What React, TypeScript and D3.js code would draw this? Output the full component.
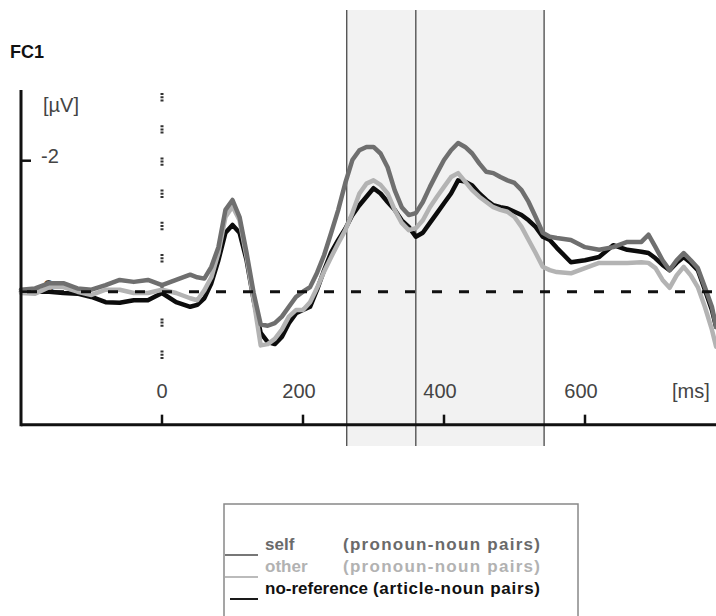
import React, { useEffect, useRef } from 'react';
import * as d3 from 'd3';

// time points (ms) shared by the three waveforms
const times = [
  -200, -180, -160, -140, -120, -100, -80, -60, -40, -20, 0, 20, 40,
  50, 60, 70, 80, 90, 100, 110, 120, 130, 140, 150, 160, 170, 180, 190, 200,
  210, 220, 230, 240, 250, 260, 270, 280, 290, 300, 310, 320, 330, 340, 350,
  360, 370, 380, 390, 400, 410, 420, 430, 440, 450, 460, 470, 480, 490, 500,
  510, 520, 530, 540,
  550, 560, 580, 600, 620, 640, 660, 680, 690, 700, 710, 720, 730, 740, 750,
  760, 770, 780, 786,
];

// amplitudes in µV (negative is plotted up)
const selfVals = [
  -0.03, -0.05, -0.13, -0.13, -0.05, -0.03, -0.1, -0.18, -0.15, -0.18, -0.1, -0.18, -0.26,
  -0.22, -0.2, -0.38, -0.68, -1.25, -1.4, -1.14, -0.59, 0.02, 0.5, 0.52, 0.48, 0.38, 0.23, 0.08, 0.0,
  -0.07, -0.29, -0.56, -0.9, -1.25, -1.66, -2.01, -2.16, -2.21, -2.21, -2.11, -1.9, -1.55, -1.29, -1.17,
  -1.2, -1.37, -1.6, -1.81, -2.01, -2.16, -2.27, -2.21, -2.11, -1.96, -1.83, -1.81, -1.75, -1.7, -1.66,
  -1.55, -1.37, -1.14, -0.9,
  -0.84, -0.82, -0.79, -0.68, -0.64, -0.68, -0.76, -0.76, -0.87, -0.68, -0.48, -0.33, -0.48, -0.59, -0.48,
  -0.36, -0.07, 0.23, 0.54,
];

const otherVals = [
  0.02, 0.03, -0.07, -0.07, 0.0, 0.05, -0.03, -0.03, 0.02, 0.02, -0.03, 0.02, 0.1,
  0.13, -0.02, -0.22, -0.59, -1.14, -1.3, -1.09, -0.53, 0.13, 0.82, 0.8, 0.72, 0.58, 0.38, 0.28, 0.28,
  0.16, -0.06, -0.31, -0.53, -0.74, -0.94, -1.2, -1.5, -1.65, -1.7, -1.63, -1.5, -1.25, -1.05, -0.94,
  -0.97, -1.09, -1.29, -1.45, -1.6, -1.75, -1.81, -1.68, -1.55, -1.45, -1.37, -1.29, -1.25, -1.22, -1.14,
  -0.99, -0.79, -0.59, -0.38,
  -0.33, -0.3, -0.28, -0.36, -0.44, -0.44, -0.44, -0.45, -0.44, -0.36, -0.18, -0.06, -0.25, -0.38, -0.25,
  -0.07, 0.23, 0.58, 0.84,
];

const noRefVals = [
  0.0, 0.0, 0.0, 0.02, 0.03, 0.08, 0.16, 0.17, 0.13, 0.13, 0.02, 0.16, 0.23,
  0.2, 0.1, -0.13, -0.48, -0.9, -1.02, -0.9, -0.48, 0.13, 0.63, 0.77, 0.8, 0.69, 0.48, 0.33, 0.28,
  0.23, -0.03, -0.33, -0.6, -0.79, -0.96, -1.17, -1.32, -1.45, -1.58, -1.5, -1.37, -1.25, -1.09, -0.99,
  -0.84, -0.9, -1.05, -1.2, -1.35, -1.5, -1.7, -1.68, -1.62, -1.5, -1.4, -1.32, -1.29, -1.27, -1.22,
  -1.17, -1.09, -0.99, -0.84,
  -0.79, -0.67, -0.45, -0.48, -0.53, -0.71, -0.64, -0.61, -0.59, -0.51, -0.41, -0.33, -0.44, -0.53, -0.44,
  -0.33, -0.03, 0.28, 0.54,
];

const xTicks = [0, 200, 400, 600];
const yTicks = [-2, 0];
const windowEdges = [262, 360, 542];
const xExtent = [-200, 786];
const yExtent = [-3.08, 2.03];

const legendNames = ['self', 'other', 'no-reference'];
const legendPairs = ['(pronoun-noun pairs)', '(pronoun-noun pairs)', '(article-noun pairs)'];

const FONT = '"Liberation Sans", Arial, sans-serif';

export default function App() {
  const ref = useRef<SVGSVGElement>(null);

  useEffect(() => {
    const svg = d3.select(ref.current);
    svg.selectAll('*').remove();

    const x = d3.scaleLinear().domain([0, 600]).range([162, 585]);
    const y = d3.scaleLinear().domain([0, -2]).range([291.7, 160.7]);

    // analysis windows
    svg.append('rect')
      .attr('x', x(windowEdges[0]))
      .attr('y', 10)
      .attr('width', x(windowEdges[2]) - x(windowEdges[0]))
      .attr('height', 436)
      .attr('fill', '#f2f2f2');
    svg.selectAll('.win')
      .data(windowEdges)
      .enter().append('line')
      .attr('x1', d => x(d)).attr('x2', d => x(d))
      .attr('y1', 10).attr('y2', 446)
      .attr('stroke', '#555')
      .attr('stroke-width', 1.4);

    // title
    svg.append('text')
      .attr('x', 10).attr('y', 58)
      .attr('font-family', FONT).attr('font-weight', 'bold')
      .attr('font-size', 18).attr('fill', '#111')
      .text('FC1');

    // onset marker
    svg.append('line')
      .attr('x1', x(0)).attr('x2', x(0))
      .attr('y1', 93).attr('y2', 359)
      .attr('stroke', '#333').attr('stroke-width', 3)
      .attr('stroke-dasharray', '2,1.2,2,1.2,2,23.8');

    // y labels
    svg.append('text')
      .attr('x', 43).attr('y', 112)
      .attr('font-family', FONT).attr('font-size', 20).attr('fill', '#444')
      .text('[µV]');
    svg.selectAll('.ylab')
      .data(yTicks)
      .enter().append('text')
      .attr('x', d => (d < 0 ? 41 : 43))
      .attr('y', d => y(d) + 2)
      .attr('font-family', FONT).attr('font-size', 20).attr('fill', '#444')
      .text(d => String(d));

    // x labels
    svg.selectAll('.xlab')
      .data(xTicks)
      .enter().append('text')
      .attr('x', d => x(d) - (d === 0 ? 0 : 4))
      .attr('y', 398)
      .attr('text-anchor', 'middle')
      .attr('font-family', FONT).attr('font-size', 20).attr('fill', '#444')
      .text(d => String(d));
    svg.append('text')
      .attr('x', 672).attr('y', 398)
      .attr('font-family', FONT).attr('font-size', 20).attr('fill', '#444')
      .text('[ms]');

    // waveforms
    const line = d3.line<number>()
      .x((d, i) => x(times[i]))
      .y(d => y(d));

    const series = [
      { vals: noRefVals, color: '#0c0c0c' },
      { vals: otherVals, color: '#b3b3b3' },
      { vals: selfVals, color: '#6f6f6f' },
    ];
    svg.selectAll('.wave')
      .data(series)
      .enter().append('path')
      .attr('d', d => line(d.vals))
      .attr('fill', 'none')
      .attr('stroke', d => d.color)
      .attr('stroke-width', 4.5)
      .attr('stroke-linejoin', 'round')
      .attr('stroke-linecap', 'round');

    // zero line
    svg.append('line')
      .attr('x1', x(xExtent[0])).attr('x2', 716)
      .attr('y1', y(0)).attr('y2', y(0))
      .attr('stroke', '#111').attr('stroke-width', 3)
      .attr('stroke-dasharray', '10,17')
      .attr('stroke-dashoffset', 21);

    // axes
    svg.append('line')
      .attr('x1', x(xExtent[0])).attr('x2', x(xExtent[0]))
      .attr('y1', y(yExtent[0])).attr('y2', y(yExtent[1]) + 1.5)
      .attr('stroke', '#111').attr('stroke-width', 3);
    svg.append('line')
      .attr('x1', x(xExtent[0])).attr('x2', 716)
      .attr('y1', y(yExtent[1])).attr('y2', y(yExtent[1]))
      .attr('stroke', '#111').attr('stroke-width', 3);
    svg.selectAll('.xtick')
      .data(xTicks)
      .enter().append('line')
      .attr('x1', d => x(d)).attr('x2', d => x(d))
      .attr('y1', y(yExtent[1]) - 10).attr('y2', y(yExtent[1]))
      .attr('stroke', '#111').attr('stroke-width', 2.5);
    svg.selectAll('.ytick')
      .data(yTicks)
      .enter().append('line')
      .attr('x1', x(xExtent[0])).attr('x2', x(xExtent[0]) + 10)
      .attr('y1', d => y(d)).attr('y2', d => y(d))
      .attr('stroke', '#111').attr('stroke-width', 2.5);

    // legend
    const legend = svg.append('g');
    legend.append('rect')
      .attr('x', 224).attr('y', 504)
      .attr('width', 354).attr('height', 120)
      .attr('fill', '#fff')
      .attr('stroke', '#888').attr('stroke-width', 1.5);
    const legendColors = ['#777', '#bbb', '#1a1a1a'];
    const textColors = ['#6a6a6a', '#b2b2b2', '#111'];
    const row = legend.selectAll('.row')
      .data(legendNames)
      .enter().append('g')
      .attr('transform', (d, i) => 'translate(0,' + (550 + i * 22) + ')');
    row.append('line')
      .attr('x1', (d, i) => (i === 2 ? 230 : 225))
      .attr('x2', 258)
      .attr('y1', 5).attr('y2', 5)
      .attr('stroke', (d, i) => legendColors[i])
      .attr('stroke-width', 2);
    row.append('text')
      .attr('x', 265).attr('y', 0)
      .attr('font-family', FONT).attr('font-weight', 'bold').attr('font-size', 17)
      .attr('fill', (d, i) => textColors[i])
      .text(d => d);
    row.append('text')
      .attr('x', (d, i) => (i === 2 ? 373 : 343)).attr('y', 0)
      .attr('font-family', FONT).attr('font-weight', 'bold').attr('font-size', 17)
      .attr('fill', (d, i) => textColors[i])
      .attr('textLength', (d, i) => (i === 2 ? 167 : 197))
      .attr('lengthAdjust', 'spacing')
      .text((d, i) => legendPairs[i]);
  }, []);

  return (
    <svg
      ref={ref}
      width={716}
      height={616}
      style={{ position: 'absolute', left: 0, top: 0, background: '#fff' }}
    />
  );
}
